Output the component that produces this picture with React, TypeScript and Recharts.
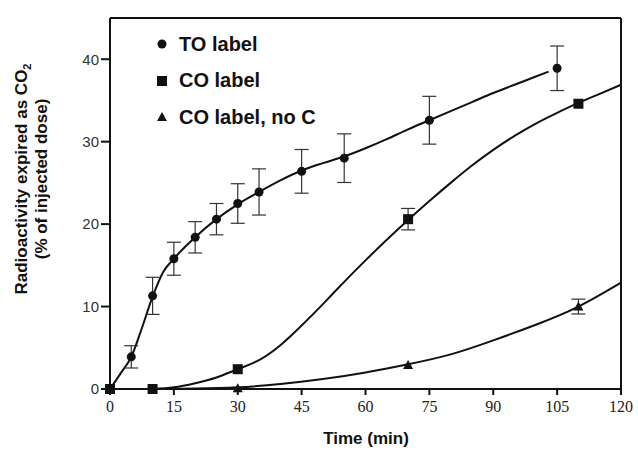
import { ComposedChart, Line, Scatter, XAxis, YAxis, ErrorBar, Legend } from 'recharts'

const timeTicks = [0, 15, 30, 45, 60, 75, 90, 105, 120]
const doseTicks = [0, 10, 20, 30, 40]

// measured points: time (min), % of injected dose, error (sd)
const toLabelPoints = [
  { t: 0, v: 0, err: 0 },
  { t: 5, v: 3.9, err: 1.35 },
  { t: 10, v: 11.3, err: 2.25 },
  { t: 15, v: 15.8, err: 2 },
  { t: 20, v: 18.4, err: 1.9 },
  { t: 25, v: 20.6, err: 1.9 },
  { t: 30, v: 22.5, err: 2.4 },
  { t: 35, v: 23.9, err: 2.8 },
  { t: 45, v: 26.4, err: 2.65 },
  { t: 55, v: 28.0, err: 2.95 },
  { t: 75, v: 32.6, err: 2.9 },
  { t: 105, v: 38.9, err: 2.7 },
]

const coLabelPoints = [
  { t: 0, v: 0, err: 0 },
  { t: 10, v: 0, err: 0 },
  { t: 30, v: 2.4, err: 0 },
  { t: 70, v: 20.6, err: 1.3 },
  { t: 110, v: 34.6, err: 0 },
]

const coNoCPoints = [
  { t: 0, v: 0, err: 0 },
  { t: 30, v: 0.1, err: 0 },
  { t: 70, v: 2.9, err: 0 },
  { t: 110, v: 10, err: 0.9 },
]

// hand-drawn fit curves
const toLabelCurve = [
  { t: 0, v: 0 }, { t: 2.5, v: 1.9 }, { t: 5, v: 3.9 }, { t: 7.5, v: 7.4 },
  { t: 10, v: 11.2 }, { t: 12.5, v: 14.2 }, { t: 15, v: 15.8 }, { t: 20, v: 18.4 },
  { t: 25, v: 20.6 }, { t: 30, v: 22.4 }, { t: 35, v: 23.9 }, { t: 40, v: 25.3 },
  { t: 45, v: 26.5 }, { t: 50, v: 27.4 }, { t: 55, v: 28.2 }, { t: 60, v: 29.2 },
  { t: 65, v: 30.3 }, { t: 70, v: 31.5 }, { t: 75, v: 32.6 }, { t: 80, v: 33.7 },
  { t: 85, v: 34.8 }, { t: 90, v: 35.9 }, { t: 95, v: 36.9 }, { t: 100, v: 37.9 },
  { t: 103, v: 38.5 },
]

const coLabelCurve = [
  { t: 10, v: 0 }, { t: 15, v: 0.2 }, { t: 20, v: 0.7 },
  { t: 25, v: 1.4 }, { t: 30, v: 2.4 }, { t: 35, v: 3.5 }, { t: 40, v: 5.3 },
  { t: 45, v: 7.7 }, { t: 50, v: 10.3 }, { t: 55, v: 13 }, { t: 60, v: 15.6 },
  { t: 65, v: 18.1 }, { t: 70, v: 20.5 }, { t: 75, v: 22.8 }, { t: 80, v: 25 },
  { t: 85, v: 27.1 }, { t: 90, v: 29 }, { t: 95, v: 30.7 }, { t: 100, v: 32.2 },
  { t: 105, v: 33.5 }, { t: 110, v: 34.7 }, { t: 115, v: 35.8 }, { t: 120, v: 36.9 },
]

const coNoCCurve = [
  { t: 10, v: 0 }, { t: 20, v: 0.05 }, { t: 30, v: 0.2 }, { t: 40, v: 0.6 },
  { t: 50, v: 1.2 }, { t: 60, v: 2 }, { t: 70, v: 3 }, { t: 80, v: 4.2 },
  { t: 90, v: 5.9 }, { t: 100, v: 7.8 }, { t: 110, v: 10 }, { t: 120, v: 12.9 },
]

const legendItems = [
  { name: 'TO label', shape: 'circle' },
  { name: 'CO label', shape: 'square' },
  { name: 'CO label, no C', shape: 'triangle' },
]

const INK = '#111'

const drawMarker = (shape: string, cx: number, cy: number) => {
  if (shape === 'square') {
    return <rect x={cx - 5} y={cy - 5} width={10} height={10} fill={INK} />
  }
  if (shape === 'triangle') {
    return <polygon points={`${cx},${cy - 5} ${cx + 5},${cy + 4} ${cx - 5},${cy + 4}`} fill={INK} />
  }
  return <circle cx={cx} cy={cy} r={4.5} fill={INK} />
}

const LegendBox = () => (
  <div>
    {legendItems.map((item) => (
      <div key={item.name} style={{ display: 'flex', alignItems: 'center', height: 36.5 }}>
        <svg width={20} height={20}>{drawMarker(item.shape, 8, 10)}</svg>
        <span
          style={{
            marginLeft: 5,
            fontFamily: '"Liberation Sans", Arial, sans-serif',
            fontWeight: 'bold',
            fontSize: 20,
            color: INK,
          }}
        >
          {item.name}
        </span>
      </div>
    ))}
  </div>
)

const YLabel = () => (
  <g fontFamily='"Liberation Sans", Arial, sans-serif' fontWeight="bold" fontSize={17} fill={INK}>
    <text x={27} y={179} textAnchor="middle" transform="rotate(-90, 27, 179)">
      Radioactivity expired as CO<tspan fontSize={11} dy={4}>2</tspan>
    </text>
    <text x={47} y={179} textAnchor="middle" transform="rotate(-90, 47, 179)">
      (% of injected dose)
    </text>
  </g>
)

const XLabel = () => (
  <text
    x={366}
    y={444}
    textAnchor="middle"
    fontFamily='"Liberation Sans", Arial, sans-serif'
    fontWeight="bold"
    fontSize={17}
    fill={INK}
  >
    Time (min)
  </text>
)

export default function App() {
  return (
    <div style={{ position: 'absolute', left: 0, top: 0, width: 638, height: 450, background: '#fff' }}>
      <ComposedChart width={638} height={450} margin={{ top: 0, right: 0, bottom: 0, left: 0 }}>
        <XAxis
          dataKey="t"
          type="number"
          domain={[0, 120]}
          ticks={timeTicks}
          height={61}
          stroke={INK}
          strokeWidth={2}
          tickSize={6}
          tickMargin={6}
          tick={{ fontFamily: '"Liberation Serif", serif', fontSize: 16, fill: '#222' }}
          label={{ content: () => <XLabel /> }}
        />
        <XAxis
          xAxisId="top"
          orientation="top"
          type="number"
          domain={[0, 120]}
          ticks={timeTicks}
          height={18}
          stroke={INK}
          strokeWidth={2}
          tickSize={6}
          tickFormatter={() => ''}
        />
        <YAxis
          type="number"
          domain={[0, 45]}
          ticks={doseTicks}
          width={110}
          stroke={INK}
          strokeWidth={2}
          tickSize={9}
          tickMargin={2}
          tick={{ fontFamily: '"Liberation Sans", Arial, sans-serif', fontSize: 15, fill: '#333' }}
          label={{ content: () => <YLabel /> }}
        />
        <YAxis
          yAxisId="right"
          orientation="right"
          type="number"
          domain={[0, 45]}
          ticks={doseTicks}
          width={17}
          stroke={INK}
          strokeWidth={2}
          tickSize={8}
          tickFormatter={() => ''}
        />
        <Legend
          layout="vertical"
          align="center"
          verticalAlign="middle"
          content={() => <LegendBox />}
          wrapperStyle={{ left: 154, top: 26, width: 240 }}
        />
        <Line data={toLabelCurve} dataKey="v" type="monotone" stroke={INK} strokeWidth={2} dot={false} isAnimationActive={false} legendType="none" />
        <Line data={coLabelCurve} dataKey="v" type="natural" stroke={INK} strokeWidth={2} dot={false} isAnimationActive={false} legendType="none" />
        <Line data={coNoCCurve} dataKey="v" type="natural" stroke={INK} strokeWidth={2} dot={false} isAnimationActive={false} legendType="none" />
        <Scatter data={toLabelPoints} dataKey="v" isAnimationActive={false} shape={(p: any) => drawMarker('circle', p.cx, p.cy)}>
          <ErrorBar dataKey="err" direction="y" width={7} stroke="#333" strokeWidth={1.2} />
        </Scatter>
        <Scatter data={coLabelPoints} dataKey="v" isAnimationActive={false} shape={(p: any) => drawMarker('square', p.cx, p.cy)}>
          <ErrorBar dataKey="err" direction="y" width={7} stroke="#333" strokeWidth={1.2} />
        </Scatter>
        <Scatter data={coNoCPoints} dataKey="v" isAnimationActive={false} shape={(p: any) => drawMarker('triangle', p.cx, p.cy)}>
          <ErrorBar dataKey="err" direction="y" width={7} stroke="#333" strokeWidth={1.2} />
        </Scatter>
      </ComposedChart>
    </div>
  )
}
